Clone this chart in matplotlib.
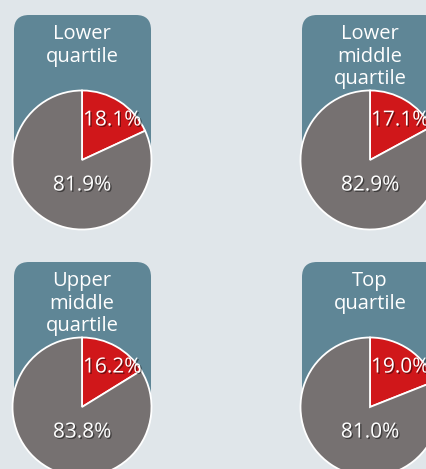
import matplotlib.pyplot as plt
import matplotlib.patheffects as pe
from matplotlib.patches import FancyBboxPatch

plt.rcParams['font.family'] = ['Open Sans', 'DejaVu Sans']

titles = ["Lower\nquartile", "Lower\nmiddle\nquartile",
          "Upper\nmiddle\nquartile", "Top\nquartile"]
red_share = [18.1, 17.1, 16.2, 19.0]
grey_share = [81.9, 82.9, 83.8, 81.0]

bg = '#e0e6ea'
box_col = '#5f8696'
red = '#d0171a'
grey = '#767171'

W, H = 427, 469
fig = plt.figure(figsize=(W / 100, H / 100), dpi=100, facecolor=bg)
ax = fig.add_axes([0, 0, 1, 1])

# pie centres in pixels, measured from the top-left corner
centers = [(82, 160), (370, 160), (82, 407), (370, 407)]
r = 69.5
shadow = [pe.withSimplePatchShadow(offset=(1, -1), shadow_rgbFace='black', alpha=0.45)]

for i, (cx, cy) in enumerate(centers):
    y = H - cy
    box = FancyBboxPatch((cx - 68, y), 137, 145,
                         boxstyle='round,pad=0,rounding_size=15',
                         facecolor=box_col, edgecolor='none', zorder=1)
    ax.add_patch(box)

    for j, line in enumerate(titles[i].split('\n')):
        ax.text(cx, y + 121 - 22.5 * j, line, ha='center', va='baseline',
                color='white', fontsize=14.5, zorder=3)

    wedges, texts, autotexts = ax.pie(
        [red_share[i], grey_share[i]], colors=[red, grey],
        center=(cx, y), radius=r, startangle=90, counterclock=False,
        autopct='%.1f%%', wedgeprops=dict(edgecolor='white', linewidth=1.3),
        textprops=dict(color='white', fontsize=15))
    for w in wedges:
        w.set_zorder(2)
    autotexts[0].set_position((cx + 1, y + 40))
    autotexts[0].set_ha('left')
    autotexts[0].set_va('center')
    autotexts[1].set_position((cx, y - 25))
    autotexts[1].set_ha('center')
    autotexts[1].set_va('center')
    for t in autotexts:
        t.set_path_effects(shadow)
        t.set_zorder(4)

ax.set_aspect('auto')
ax.set_xlim(0, W)
ax.set_ylim(0, H)
ax.axis('off')

fig.savefig('out.png', dpi=100, facecolor=bg)
